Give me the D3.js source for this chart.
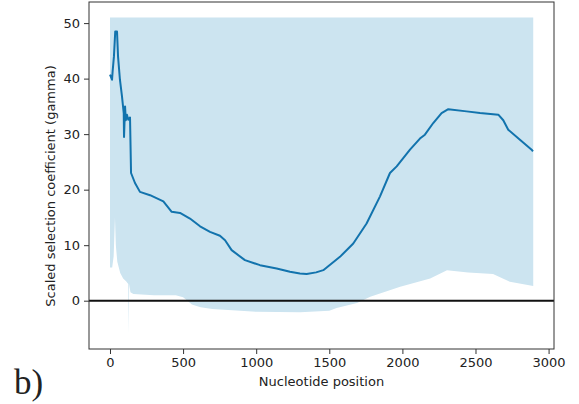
<!DOCTYPE html>
<html>
<head>
<meta charset="utf-8">
<script src="https://cdn.jsdelivr.net/npm/d3@7"></script>
<style>
  body { margin: 0; background: #fff; }
  svg { display: block; }
  text { font-family: "DejaVu Sans", sans-serif; fill: #222; }
</style>
</head>
<body>
<div id="chart"></div>
<script>
// Mean gamma along the sequence
const linePos = [0, 14, 18, 27, 36, 48, 55, 68, 82, 94, 96, 103, 108, 116, 125, 137, 144, 171, 205, 274, 365, 422, 479, 547, 616, 684, 752, 787, 832, 923, 1026, 1140, 1231, 1299, 1345, 1410, 1459, 1573, 1664, 1755, 1847, 1915, 1961, 2052, 2120, 2154, 2211, 2268, 2314, 2439, 2531, 2656, 2690, 2724, 2804, 2884, 2893];
const lineVal = [40.7, 39.8, 41.3, 44, 48.5, 48.5, 44, 39.8, 36.8, 33.8, 29.5, 35, 32.5, 33.5, 32.6, 33, 23, 21.2, 19.6, 19, 17.9, 16, 15.8, 14.8, 13.4, 12.4, 11.7, 10.9, 9.1, 7.3, 6.4, 5.8, 5.2, 4.9, 4.8, 5.1, 5.5, 7.9, 10.3, 13.9, 18.8, 23, 24.2, 27.2, 29.2, 29.9, 32, 33.8, 34.5, 34.1, 33.8, 33.5, 32.5, 30.8, 29, 27.2, 26.9];

// Credible band
const bandPos = [0, 15, 25, 34, 40, 50, 70, 90, 110, 125, 128, 131, 140, 160, 300, 450, 500, 530, 560, 620, 700, 1000, 1300, 1500, 1550, 1690, 1780, 1985, 2190, 2305, 2450, 2620, 2735, 2895];
const bandLow = [6, 6, 8, 15, 10, 7, 5, 4, 3.5, 3, -6, 3, 1.5, 1.2, 1, 1, 0.6, 0, -0.7, -1.2, -1.5, -2, -2.1, -1.8, -1.3, -0.4, 0.7, 2.5, 4, 5.5, 5.1, 4.8, 3.4, 2.65];
const bandHigh = 51;

const xTicks = [0, 500, 1000, 1500, 2000, 2500, 3000];
const yTicks = [0, 10, 20, 30, 40, 50];

const width = 579, height = 404;
const margin = { left: 89, right: 25, top: 2, bottom: 55 };

const svg = d3.select('#chart').append('svg')
    .attr('width', width)
    .attr('height', height);

const x = d3.scaleLinear()
    .domain([-143.6, 3037])
    .range([margin.left, width - margin.right]);

const y = d3.scaleLinear()
    .domain([-8.7, 53.8])
    .range([height - margin.bottom, margin.top]);

const band = bandPos.map((p, i) => ({ p, lo: bandLow[i], hi: bandHigh }));
const line = linePos.map((p, i) => ({ p, v: lineVal[i] }));

// band
svg.append('path')
    .datum(band)
    .attr('fill', '#cce4f0')
    .attr('d', d3.area()
        .x(d => x(d.p))
        .y0(d => y(d.lo))
        .y1(d => y(d.hi)));

// zero line
svg.append('line')
    .attr('x1', x.range()[0]).attr('x2', x.range()[1])
    .attr('y1', y(0)).attr('y2', y(0))
    .attr('stroke', '#111')
    .attr('stroke-width', 2);

// mean line
svg.append('path')
    .datum(line)
    .attr('fill', 'none')
    .attr('stroke', '#1273ad')
    .attr('stroke-width', 2)
    .attr('stroke-linejoin', 'round')
    .attr('d', d3.line().x(d => x(d.p)).y(d => y(d.v)));

// frame
svg.append('rect')
    .attr('x', x.range()[0]).attr('y', y.range()[1])
    .attr('width', x.range()[1] - x.range()[0])
    .attr('height', y.range()[0] - y.range()[1])
    .attr('fill', 'none')
    .attr('stroke', '#333')
    .attr('stroke-width', 1);

// axes
const xAxis = svg.append('g')
    .attr('transform', `translate(0,${y.range()[0]})`)
    .call(d3.axisBottom(x).tickValues(xTicks).tickFormat(d3.format('d')).tickSize(5).tickPadding(4));
const yAxis = svg.append('g')
    .attr('transform', `translate(${x.range()[0]},0)`)
    .call(d3.axisLeft(y).tickValues(yTicks).tickFormat(d3.format('d')).tickSize(5).tickPadding(4));

[xAxis, yAxis].forEach(g => {
    g.select('.domain').remove();
    g.selectAll('.tick line').attr('stroke', '#333');
    g.selectAll('.tick text')
        .style('font-size', '13px')
        .style('font-family', '"DejaVu Sans", sans-serif')
        .attr('fill', '#222');
});

// labels
svg.append('text')
    .attr('x', (x.range()[0] + x.range()[1]) / 2)
    .attr('y', 386)
    .attr('text-anchor', 'middle')
    .style('font-size', '13px')
    .text('Nucleotide position');

svg.append('text')
    .attr('transform', 'translate(55,186) rotate(-90)')
    .attr('text-anchor', 'middle')
    .style('font-size', '13px')
    .text('Scaled selection coefficient (gamma)');

svg.append('text')
    .attr('x', 14)
    .attr('y', 394)
    .style('font-family', '"Liberation Serif", "Times New Roman", serif')
    .style('font-size', '35px')
    .attr('fill', '#000')
    .text('b)');
</script>
</body>
</html>
